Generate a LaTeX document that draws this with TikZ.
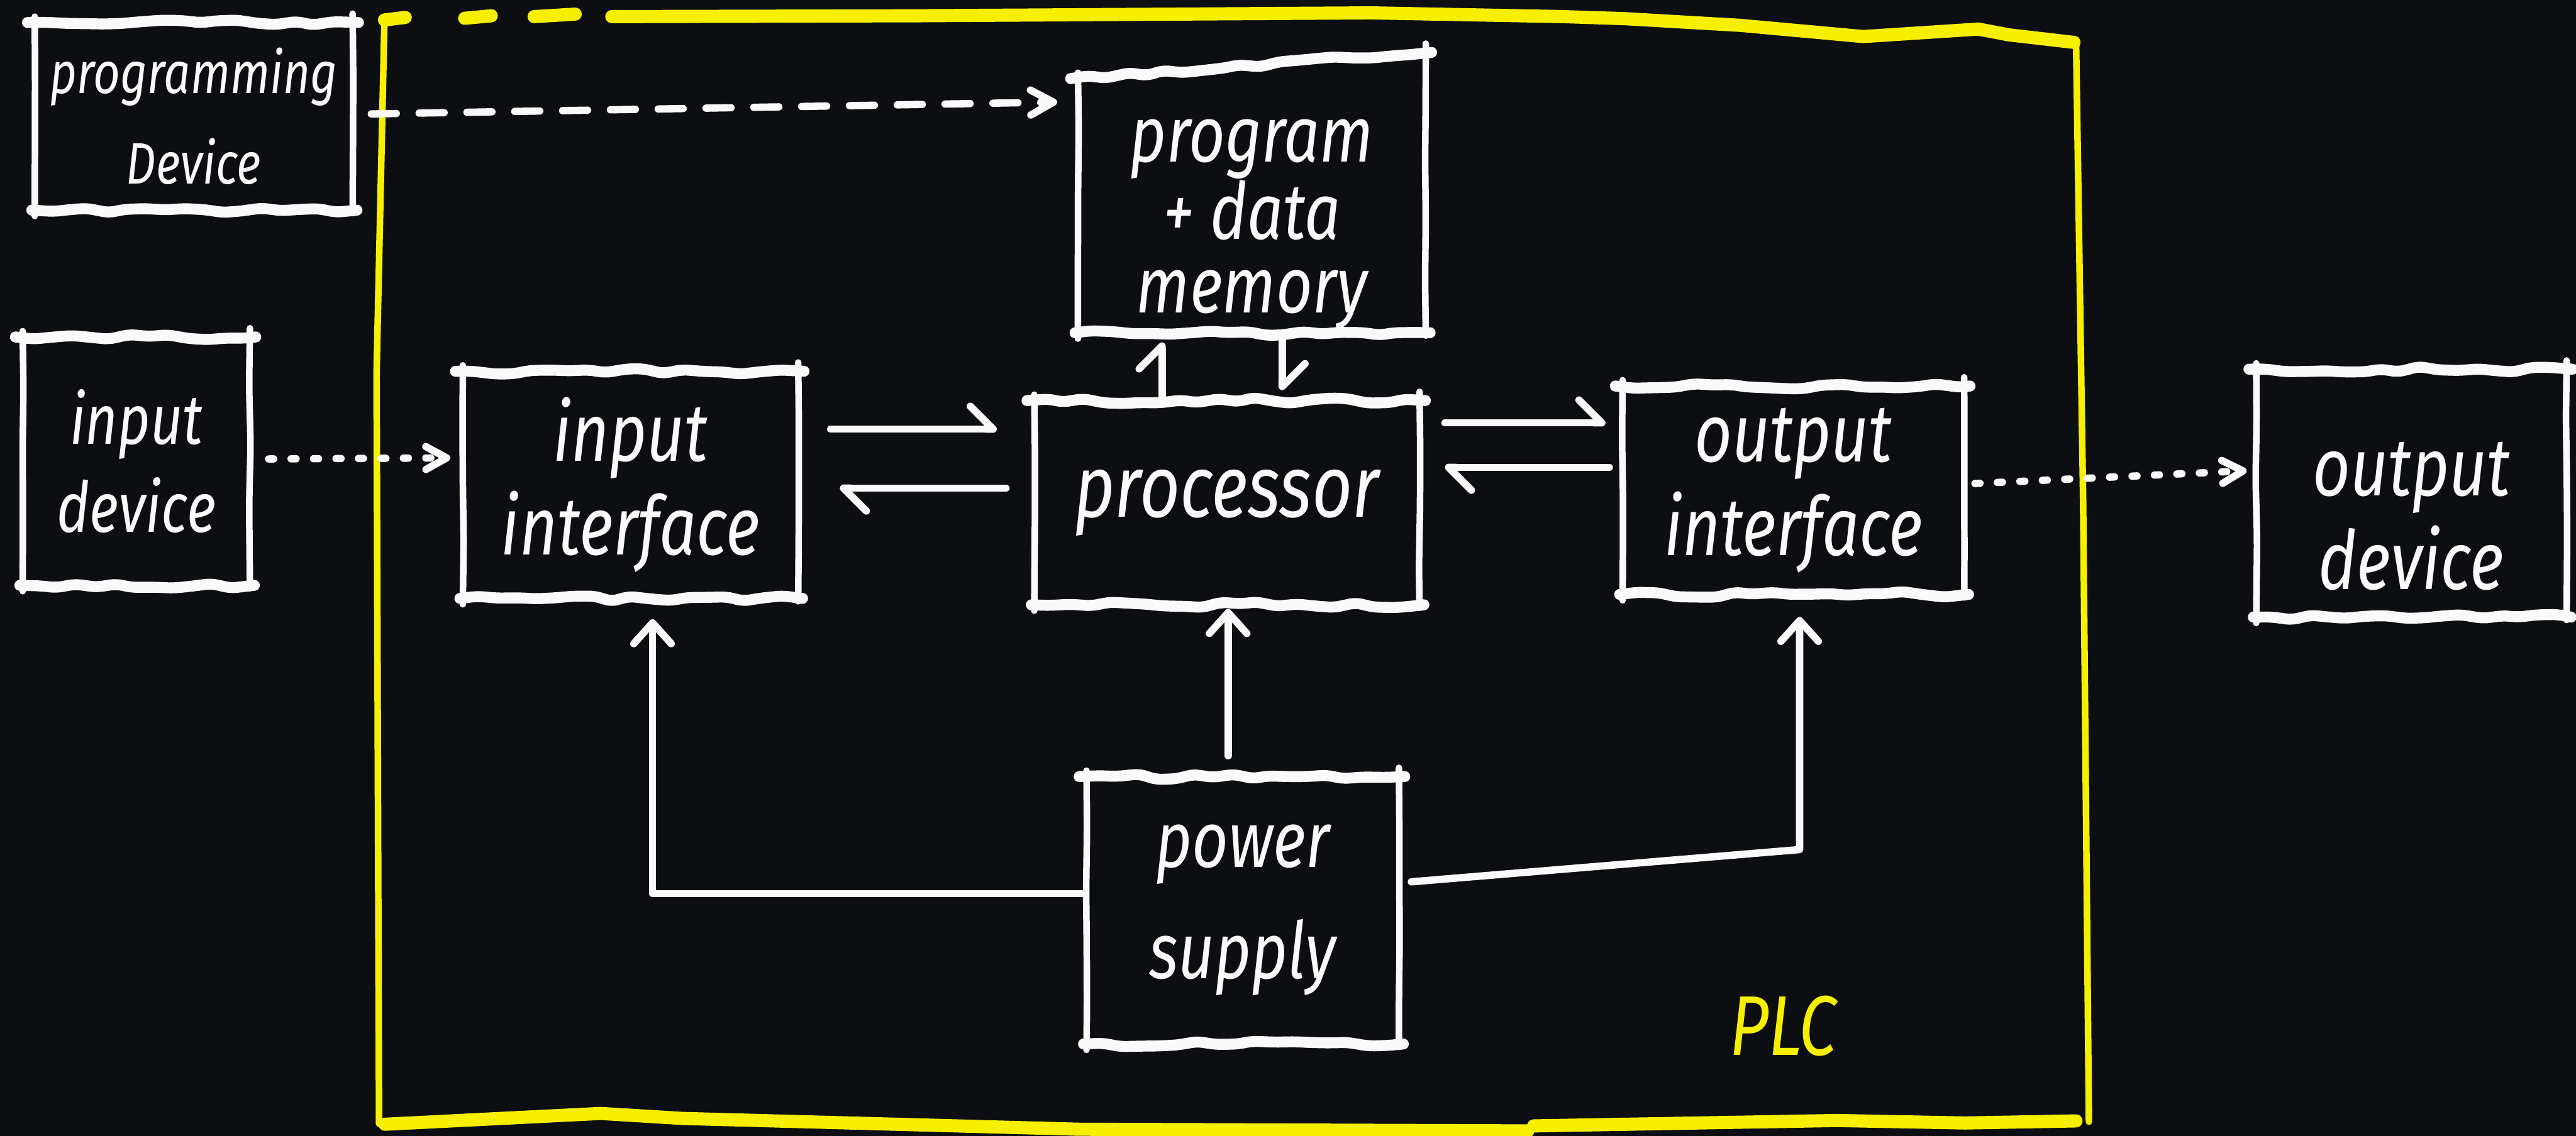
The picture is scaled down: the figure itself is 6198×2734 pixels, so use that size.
\documentclass[tikz,border=0pt]{standalone}
\usepackage{fontspec}
\newfontfamily\hand[FakeStretch=0.8]{Fira Sans}
\usetikzlibrary{arrows.meta,decorations.pathmorphing,calc}

\definecolor{board}{RGB}{12,14,18}
\definecolor{chalk}{RGB}{250,250,250}
\definecolor{marker}{RGB}{246,240,0}

% four hand-drawn edges round a block: heavy wavy top and bottom, thin sides;
% the optional argument lifts the top right corner
\newcommand\handbox[2][0pt]{%
  \draw[hedge] ([xshift=-5pt]#2.north west) -- ([xshift=4pt, yshift=#1]#2.north east);
  \draw[hedge] ([xshift=-2pt]#2.south west) -- ([xshift=3pt]#2.south east);
  \draw[vedge] ([yshift=4pt]#2.north west) -- ([yshift=-4pt]#2.south west);
  \draw[vedge] ([yshift=6pt+#1]#2.north east) -- ([yshift=-2pt]#2.south east);}

\begin{document}
\begin{tikzpicture}[x=0.01cm, y=-0.01cm,
  hedge/.style={chalk, line width=7.5pt, line cap=round, line join=round,
    decorate, decoration={random steps, segment length=13pt, amplitude=2pt},
    rounded corners=4pt},
  vedge/.style={chalk, line width=4.5pt, line cap=round, line join=round,
    decorate, decoration={random steps, segment length=40pt, amplitude=0.6pt},
    rounded corners=10pt},
  blk/.style={rectangle, inner sep=0pt, text=chalk, align=center,
    font=\hand\itshape\fontsize{56}{64}\selectfont},
  lbl/.style={inner sep=0pt, text=chalk, align=center,
    font=\hand\itshape\fontsize{56}{64}\selectfont},
  conn/.style={chalk, line width=5pt, line cap=round, line join=round},
  harp/.style={conn, -{Straight Barb[left, length=0.55cm, width=1.1cm, round]}},
  uptip/.style={conn, -{Straight Barb[length=0.5cm, width=0.9cm, round]}},
  dashlink/.style={conn, dash pattern=on 0.6cm off 0.55cm,
    -{Straight Barb[length=0.55cm, width=0.6cm, round]}},
  dotlink/.style={conn, dash pattern=on 0.12cm off 0.42cm,
    -{Straight Barb[length=0.5cm, width=0.55cm, round]}},
  framev/.style={marker, line width=4.5pt, line cap=round, line join=round},
  frameh/.style={marker, line width=9pt, line cap=round, line join=round},
  plcfont/.style={text=marker, font=\hand\itshape\fontsize{58}{64}\selectfont}
]
\pgfmathsetseed{11}
\fill[board] (0,0) rectangle (6198,2734);
\useasboundingbox (0,0) rectangle (6198,2734);

% ---- PLC enclosure ----
\draw[framev] (925,48) -- (906,900) -- (912,2705);
\draw[framev] (4995,95) -- (5012,1200) -- (5026,2700);
\draw[frameh] (925,48) -- (975,42);
\draw[frameh] (1118,44) -- (1182,38);
\draw[frameh] (1285,40) -- (1384,34);
\draw[frameh] (1472,40) -- (2200,38) -- (3300,31) -- (3762,40) -- (3910,45)
  -- (4187,61) -- (4483,88) -- (4760,70) -- (4834,84) -- (4990,102);
\draw[frameh] (926,2706) -- (1445,2680) -- (1642,2692) -- (2596,2718) -- (3676,2722);
\draw[frameh] (3690,2710) -- (4420,2697) -- (4728,2703) -- (4995,2698);
\node[plcfont] (plc) at (4290,2470) {PLC};

% ---- blocks ----
\node[blk, minimum width=7.63cm, minimum height=4.5cm,
  font=\hand\itshape\fontsize{40}{62}\selectfont] (prog) at (466,280)
  {programming\\Device};
\node[blk, minimum width=5.45cm, minimum height=5.96cm,
  font=\hand\itshape\fontsize{48}{60}\selectfont] (indev) at (328,1110)
  {input\\device};
\node[blk, minimum width=8.05cm, minimum height=5.45cm] (inif) at (1517,1167)
  {input\\interface};
\node[blk, minimum width=9.25cm, minimum height=4.9cm,
  font=\hand\itshape\fontsize{60}{64}\selectfont] (proc) at (2952,1210)
  {processor};
\node[blk, minimum width=8.35cm, minimum height=6.1cm] (mem) at (3012,495) {};
\node[lbl, font=\hand\itshape\fontsize{54}{50}\selectfont] (memtext)
  at ([yshift=-0.45cm]mem.center) {program\\+ data\\memory};
\node[blk, minimum width=8.2cm, minimum height=5.0cm] (outif) at (4315,1180)
  {output\\interface};
\node[blk, minimum width=7.45cm, minimum height=5.95cm] (outdev) at (5802,1187) {};
\node[lbl] (outdevtext) at ([yshift=-0.55cm]outdev.center) {output\\device};
\node[blk, minimum width=7.5cm, minimum height=6.42cm,
  font=\hand\itshape\fontsize{54}{76}\selectfont] (power) at (2990,2191)
  {power\\supply};

\handbox{prog}
\handbox{indev}
\handbox{inif}
\handbox{proc}
\handbox[0.63cm]{mem}
\handbox{outif}
\handbox{outdev}
\handbox{power}

% ---- signal paths ----
\draw[dashlink, shorten <=0.45cm, shorten >=0.5cm]
  ([yshift=0.05cm]prog.east) -- ([yshift=2.5cm]mem.west);
\draw[dotlink, shorten <=0.45cm, shorten >=0.3cm]
  ([yshift=0.05cm]indev.east) -- ([yshift=0.65cm]inif.west);
\draw[dotlink, shorten <=0.26cm, shorten >=0.23cm]
  ([yshift=0.15cm]outif.east) -- ([yshift=0.55cm]outdev.west);

% data exchange with the processor
\draw[harp, shorten <=0.78cm, shorten >=0.9cm]
  ([yshift=1.34cm]inif.east) -- ([yshift=1.34cm]inif.east -| proc.west);
\draw[harp, shorten <=0.68cm, shorten >=1.0cm]
  ([yshift=0.35cm]proc.west) -- ([yshift=0.35cm]proc.west -| inif.east);
\draw[harp, shorten <=0.61cm, shorten >=0.41cm]
  ([yshift=1.92cm]proc.east) -- ([yshift=1.92cm]proc.east -| outif.west);
\draw[harp, shorten <=0.32cm, shorten >=0.61cm]
  ([yshift=0.55cm]outif.west) -- ([yshift=0.55cm]outif.west -| proc.east);
\draw[harp, shorten <=0.08cm, shorten >=0.23cm]
  ([xshift=-1.56cm]proc.north) -- ([xshift=-1.56cm]proc.north |- mem.south);
\draw[harp, shorten <=0.15cm, shorten >=0.25cm]
  ([xshift=0.73cm]mem.south) -- ([xshift=0.73cm]mem.south |- proc.north);

% power distribution
\draw[uptip, shorten <=0.5cm, shorten >=0.1cm]
  ([xshift=-0.35cm]power.north) -- ([xshift=-0.35cm]power.north |- proc.south);
\draw[uptip, shorten <=0.1cm, shorten >=0.5cm]
  ([yshift=0.4cm]power.west) -| ([xshift=0.53cm]inif.south);
\draw[uptip, shorten <=0.3cm, shorten >=0.54cm]
  ([yshift=0.66cm]power.east) -- ([xshift=0.15cm, yshift=1.46cm]power.east -| outif.south)
  -- ([xshift=0.15cm]outif.south);
\end{tikzpicture}
\end{document}
